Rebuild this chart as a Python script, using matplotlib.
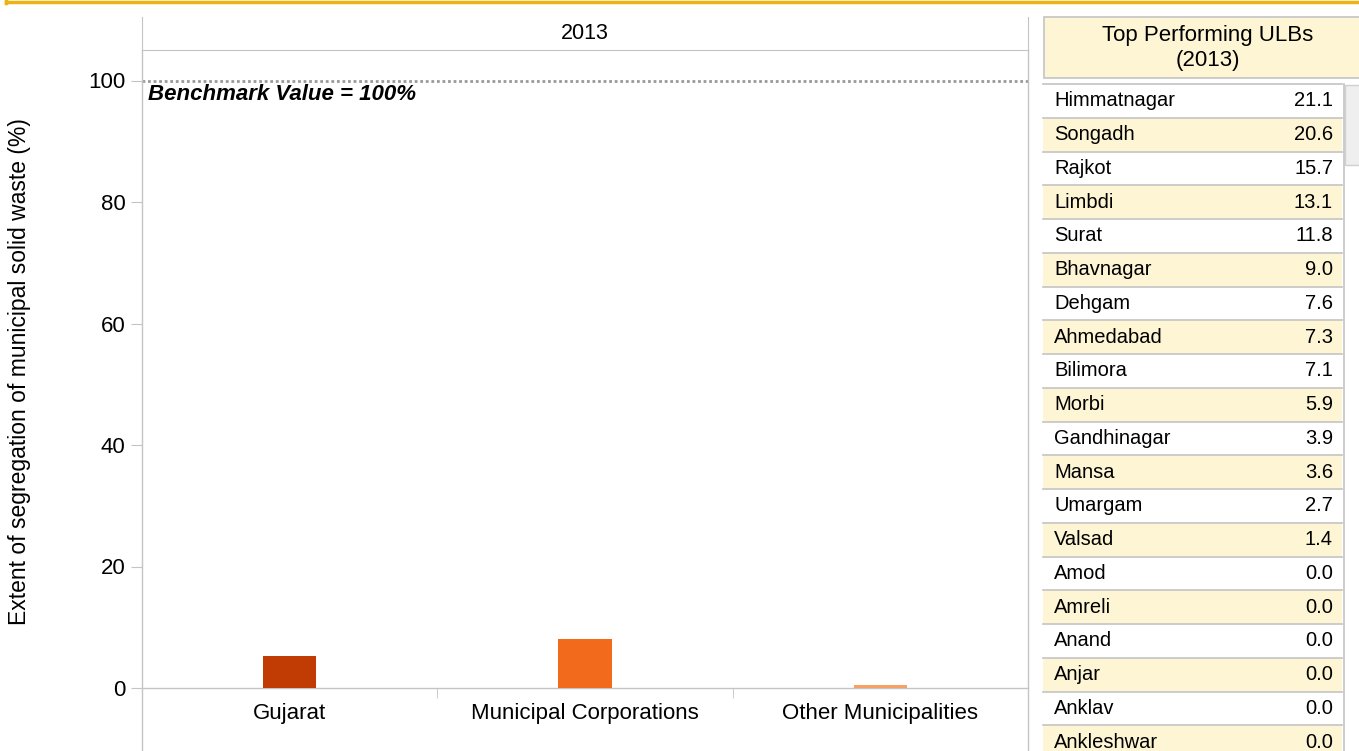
import matplotlib.pyplot as plt
from matplotlib.patches import Rectangle
from matplotlib.lines import Line2D

plt.rcParams['font.family'] = ['Liberation Sans', 'DejaVu Sans']

# chart data
categories = ['Gujarat', 'Municipal Corporations', 'Other Municipalities']
values = [5.3, 8.1, 0.5]
bar_colors = ['#C13C04', '#F26B1D', '#F8A164']
year = '2013'
benchmark = 100
yticks = [0, 20, 40, 60, 80, 100]

# table data
ulb_names = ['Himmatnagar', 'Songadh', 'Rajkot', 'Limbdi', 'Surat', 'Bhavnagar',
             'Dehgam', 'Ahmedabad', 'Bilimora', 'Morbi', 'Gandhinagar', 'Mansa',
             'Umargam', 'Valsad', 'Amod', 'Amreli', 'Anand', 'Anjar', 'Anklav',
             'Ankleshwar']
ulb_values = [21.1, 20.6, 15.7, 13.1, 11.8, 9.0, 7.6, 7.3, 7.1, 5.9, 3.9, 3.6,
              2.7, 1.4, 0.0, 0.0, 0.0, 0.0, 0.0, 0.0]

W, H = 1359, 751
GRID = '#C4C4C4'
CREAM = '#FDF5D4'

fig = plt.figure(figsize=(W / 100, H / 100), dpi=100)


def px_axes(x0, y0, x1, y1):
    # axes placed by pixel box (top-left origin)
    return fig.add_axes([x0 / W, 1 - y1 / H, (x1 - x0) / W, (y1 - y0) / H])


# golden border at top
fig.add_artist(Line2D([6 / W, 1], [1 - 2 / H, 1 - 2 / H], color='#EDB213', lw=2.5))
fig.add_artist(Line2D([6 / W, 6 / W], [1, 1 - 3 / H], color='#EDB213', lw=2.5))

# main plot
ax = px_axes(142, 50, 1028, 751)
ppu = (688 - 80.5) / 100.0
ax.set_ylim(-(751 - 688) / ppu, 100 + (80.5 - 50) / ppu)
ax.set_xlim(-0.5, len(categories) - 0.5)

ax.bar(range(len(categories)), values, width=0.18, color=bar_colors, zorder=3)
ax.axhline(benchmark, color='#999999', lw=2, ls=(0, (1, 1)), zorder=2)
ax.text(-0.48, benchmark - 0.6, 'Benchmark Value = %d%%' % benchmark,
        fontsize=16, fontweight='bold', fontstyle='italic', va='top', ha='left')

ax.spines['top'].set_visible(False)
for side in ['left', 'right', 'bottom']:
    ax.spines[side].set_color(GRID)
    ax.spines[side].set_linewidth(1)
ax.spines['bottom'].set_position(('data', 0))

ax.set_yticks(yticks)
ax.set_yticklabels([str(t) for t in yticks], fontsize=16)
ax.tick_params(axis='y', length=8, color=GRID, pad=4)
ax.set_xticks(range(len(categories)))
ax.set_xticklabels(categories, fontsize=16)
ax.set_xticks([0.5, 1.5], minor=True)
ax.tick_params(axis='x', which='major', length=0, pad=11)
ax.tick_params(axis='x', which='minor', length=7, color=GRID)
ax.set_ylabel('Extent of segregation of municipal solid waste (%)', fontsize=16.5,
              labelpad=0, va='center')
ax.yaxis.set_label_coords(-122 / 886, 1 - (372 - 50) / 701)

# facet header
hx = px_axes(142, 17, 1028, 50)
hx.set_xticks([])
hx.set_yticks([])
hx.spines['top'].set_visible(False)
for side in ['left', 'right', 'bottom']:
    hx.spines[side].set_color(GRID)
hx.text(0.5, 0.5, year, ha='center', va='center', fontsize=15.5, transform=hx.transAxes)

# table of top ULBs
tx = px_axes(1028, 0, W, H)
tx.set_xlim(1028, W)
tx.set_ylim(H, 0)
tx.axis('off')

tx.add_patch(Rectangle((1044, 17), 330, 61, facecolor=CREAM, edgecolor=GRID, lw=1.2))
tx.text(1208, 48, 'Top Performing ULBs\n(%s)' % year, ha='center', va='center',
        fontsize=16, linespacing=1.2)

row_h = 33.75
top = 84
for i, (name, val) in enumerate(zip(ulb_names, ulb_values)):
    y = top + i * row_h
    if i % 2 == 1:
        tx.add_patch(Rectangle((1043, y), 299, row_h, facecolor=CREAM, edgecolor='none'))
    tx.plot([1043, 1342], [y, y], color=GRID, lw=1.2)
    tx.text(1054, y + row_h / 2, name, ha='left', va='center', fontsize=14.5)
    tx.text(1333, y + row_h / 2, '%.1f' % val, ha='right', va='center', fontsize=14.5)

# scrollbar
tx.plot([1343.5, 1343.5], [84, H], color=GRID, lw=1.2)
tx.add_patch(Rectangle((1345, 85), 20, 80, facecolor='#EFEFEF', edgecolor='#D0D0D0', lw=1))

fig.savefig('out.png', dpi=100)
